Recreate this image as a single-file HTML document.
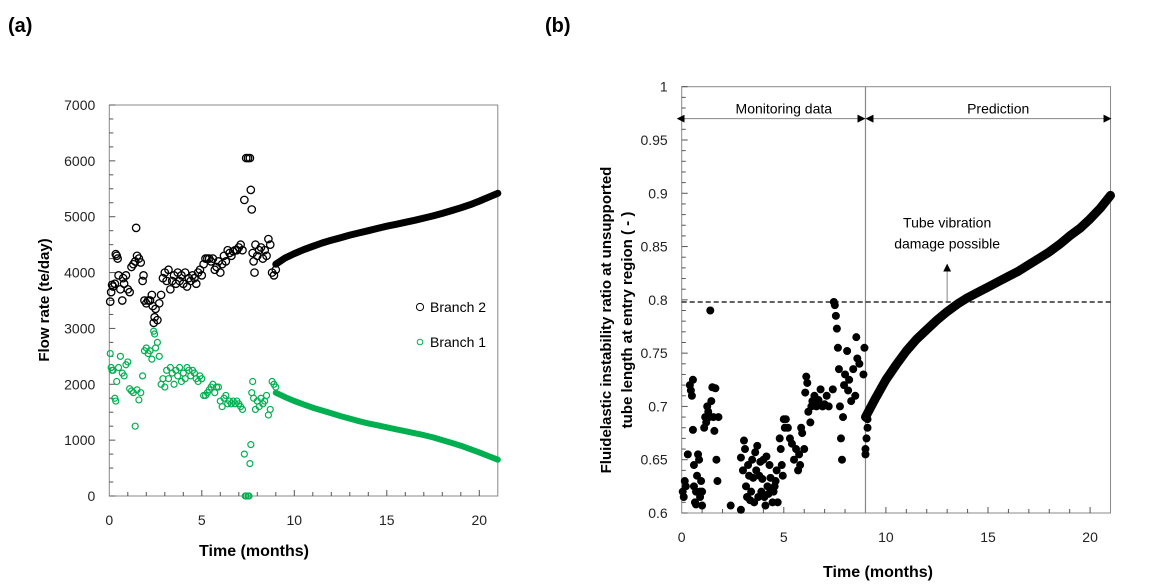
<!DOCTYPE html>
<html><head><meta charset="utf-8">
<style>
html,body{margin:0;padding:0;background:#fff;}
svg{display:block;font-family:"Liberation Sans",sans-serif;}
</style></head>
<body>
<svg id="c" width="1160" height="587" viewBox="0 0 1160 587">
<text x="8" y="32" font-size="20" font-weight="bold">(a)</text>
<text x="545" y="32" font-size="20" font-weight="bold">(b)</text>
</svg>
<script>
// ---------- Panel (a) data ----------
const b2T=[0.05,0.1,0.15,0.2,0.3,0.35,0.4,0.45,0.5,0.6,0.7,0.75,0.8,0.9,1.0,1.1,1.2,1.3,1.4,1.45,1.5,1.6,1.7,1.8,1.85,1.9,2.0,2.1,2.2,2.3,2.35,2.4,2.45,2.5,2.6,2.7,2.8,2.9,3.0,3.1,3.2,3.3,3.4,3.5,3.6,3.7,3.8,3.9,4.0,4.1,4.2,4.3,4.4,4.5,4.6,4.7,4.8,4.9,5.0,5.1,5.2,5.3,5.4,5.5,5.6,5.7,5.8,5.9,6.0,6.1,6.2,6.3,6.4,6.5,6.6,6.7,6.8,6.9,7.0,7.1,7.2,7.3,7.4,7.5,7.6,7.65,7.7,7.75,7.8,7.85,7.9,8.0,8.1,8.2,8.3,8.4,8.5,8.6,8.7,8.8,8.9,9.0];
const b2V=[3480,3650,3780,3750,3800,4330,4300,4250,3950,3700,3500,3900,3800,3950,3700,3650,4100,4150,4200,4800,4300,4250,4180,3850,3950,3500,3450,3500,3500,3600,3400,3100,3200,3350,3150,3450,3600,3900,4000,3850,4050,3700,3850,3950,3800,4000,3850,3950,3800,4000,3750,3900,3850,3950,3900,3800,4000,4050,3950,4150,4250,4250,4250,4200,4250,4050,4100,4200,4000,4150,4300,4200,4400,4350,4300,4380,4400,4400,4450,4500,4400,5300,6050,6050,6050,5480,5130,4350,4200,4000,4500,4300,4400,4450,4250,4400,4300,4600,4500,4000,3950,4050];
const b1T=[0.05,0.1,0.15,0.2,0.3,0.35,0.4,0.5,0.6,0.7,0.8,0.9,1.0,1.1,1.2,1.3,1.4,1.5,1.6,1.7,1.8,1.9,2.0,2.1,2.2,2.3,2.4,2.45,2.5,2.6,2.7,2.8,2.9,3.0,3.1,3.2,3.3,3.4,3.5,3.6,3.7,3.8,3.9,4.0,4.1,4.2,4.3,4.4,4.5,4.6,4.7,4.8,4.9,5.0,5.1,5.2,5.3,5.4,5.5,5.6,5.7,5.8,5.9,6.0,6.1,6.2,6.3,6.4,6.5,6.6,6.7,6.8,6.9,7.0,7.1,7.2,7.3,7.35,7.4,7.5,7.55,7.6,7.65,7.7,7.75,7.8,7.9,8.0,8.1,8.2,8.3,8.4,8.5,8.6,8.7,8.8,8.9,9.0];
const b1V=[2550,2300,2250,2250,1750,1700,2050,2300,2500,2200,2150,2350,2400,1920,1880,1850,1250,1900,1720,1850,2150,2600,2650,2550,2600,2450,2950,2900,2650,2750,2500,2000,2100,1950,2250,2100,2300,2200,2000,2250,2150,2300,2050,2200,2100,2300,2250,2150,2250,2200,2100,2050,2150,2100,1800,1800,1850,1900,1950,2000,1850,1950,1950,1700,1600,1750,1800,1650,1700,1650,1700,1650,1700,1650,1600,1550,750,0,0,0,0,580,920,1850,2050,1750,1550,1700,1600,1750,1650,1700,1800,1450,1550,2050,2000,1950];
const predT=[9,9.5,10,10.5,11,11.5,12,12.5,13,13.5,14,14.5,15,15.5,16,16.5,17,17.5,18,18.5,19,19.5,20,20.5,21];
const b2Pred=[4150,4260,4340,4410,4470,4530,4580,4625,4670,4710,4750,4790,4830,4865,4900,4935,4975,5015,5060,5110,5160,5215,5280,5350,5420];
const b1Pred=[1850,1770,1700,1640,1580,1530,1480,1430,1385,1340,1300,1265,1230,1195,1160,1125,1090,1050,1000,950,900,840,780,715,650];
const aYTicks=[0,1000,2000,3000,4000,5000,6000,7000];
const aXTicks=[0,5,10,15,20];
// ---------- Panel (b) data ----------
const fT=[0.05,0.1,0.15,0.2,0.3,0.4,0.45,0.5,0.55,0.55,0.6,0.6,0.65,0.7,0.7,0.75,0.8,0.85,0.9,0.9,0.95,1.0,1.0,1.1,1.15,1.2,1.25,1.3,1.35,1.4,1.45,1.5,1.55,1.6,1.65,1.7,1.75,1.8,2.4,2.9,2.9,3.0,3.05,3.1,3.15,3.2,3.25,3.3,3.35,3.4,3.45,3.5,3.55,3.6,3.65,3.7,3.75,3.8,3.85,3.9,3.95,4.0,4.05,4.1,4.15,4.2,4.25,4.3,4.35,4.4,4.45,4.5,4.55,4.6,4.65,4.7,4.8,4.85,4.9,4.95,5.0,5.05,5.1,5.2,5.3,5.4,5.5,5.6,5.7,5.75,5.8,5.85,5.9,6.0,6.05,6.1,6.15,6.2,6.3,6.35,6.4,6.5,6.6,6.7,6.8,6.9,7.0,7.1,7.2,7.4,7.45,7.5,7.55,7.6,7.65,7.7,7.75,7.8,7.85,7.9,7.95,8.0,8.1,8.15,8.2,8.3,8.4,8.5,8.55,8.6,8.7,8.9,8.95,9.0,9.0,9.05,9.1,9.1];
const fV=[0.62,0.615,0.63,0.625,0.655,0.72,0.715,0.71,0.725,0.678,0.645,0.625,0.61,0.608,0.62,0.635,0.655,0.65,0.615,0.62,0.63,0.607,0.62,0.68,0.69,0.685,0.7,0.695,0.69,0.79,0.705,0.718,0.69,0.677,0.717,0.65,0.63,0.69,0.607,0.603,0.652,0.64,0.668,0.66,0.625,0.615,0.645,0.635,0.612,0.62,0.65,0.633,0.61,0.657,0.64,0.663,0.615,0.635,0.648,0.62,0.632,0.65,0.615,0.607,0.653,0.625,0.618,0.645,0.633,0.622,0.61,0.62,0.625,0.63,0.64,0.61,0.67,0.66,0.645,0.635,0.688,0.68,0.688,0.68,0.67,0.665,0.65,0.66,0.64,0.655,0.645,0.68,0.675,0.66,0.713,0.728,0.722,0.695,0.685,0.7,0.705,0.71,0.7,0.706,0.716,0.7,0.702,0.71,0.7,0.716,0.798,0.795,0.785,0.773,0.755,0.735,0.7,0.67,0.65,0.69,0.72,0.73,0.752,0.715,0.725,0.705,0.735,0.71,0.765,0.745,0.74,0.73,0.755,0.655,0.66,0.67,0.688,0.68,0.672,0.69];
const fPred=[0.690,0.708,0.725,0.739,0.752,0.763,0.772,0.781,0.789,0.796,0.802,0.807,0.812,0.817,0.822,0.827,0.833,0.839,0.845,0.852,0.860,0.867,0.876,0.886,0.898];
const bYTicks=[0.6,0.65,0.7,0.75,0.8,0.85,0.9,0.95,1];
const bYLabels=["0.6","0.65","0.7","0.75","0.8","0.85","0.9","0.95","1"];
const bXTicks=[0,5,10,15,20];
const threshold=0.798;

const svg=document.getElementById('c');
const NS='http://www.w3.org/2000/svg';
function mk(tag,attrs,parent){const e=document.createElementNS(NS,tag);for(const k in attrs)e.setAttribute(k,attrs[k]);(parent||svg).appendChild(e);return e;}

const ax=t=>109.3+t*18.5, ay=v=>496-v*(391/7000);
const bx=t=>681.7+t*20.42, by=v=>513-(v-0.6)*(426.3/0.4);

// ===== Panel A =====
let g=mk('g',{});


let r=mk('rect',{x:ax(0),y:ay(7000),width:ax(21)-ax(0),height:ay(0)-ay(7000),fill:'none',stroke:'#888','stroke-width':1},g);

for(let v=0;v<=7000;v+=250){let l=mk('line',{x1:ax(0),x2:ax(0)+(v%1000===0?6:4),y1:ay(v),y2:ay(v),stroke:'#555'},g);}
for(let t=1;t<=20;t++){let l=mk('line',{x1:ax(t),x2:ax(t),y1:ay(0),y2:ay(0)-(t%5===0?6:4),stroke:'#555'},g);}
aYTicks.forEach(v=>{let e=mk('text',{x:ax(0)-14,y:ay(v)+5,'text-anchor':'end','font-size':14,fill:'#222'},g);e.textContent=v;});
aXTicks.forEach(t=>{let e=mk('text',{x:ax(t),y:525,'text-anchor':'middle','font-size':14,fill:'#222'},g);e.textContent=t;});
let xt=mk('text',{x:254,y:556,'text-anchor':'middle','font-size':16,'font-weight':'bold'},g);xt.textContent='Time (months)';

let yt=mk('text',{x:49,y:300,'text-anchor':'middle','font-size':15,'font-weight':'bold',transform:'rotate(-90 49 300)'},g);yt.textContent='Flow rate (te/day)';

function polyPts(T,V,fx,fy){return T.map((t,i)=>fx(t).toFixed(1)+','+fy(V[i]).toFixed(1)).join(' ');}
let p2=mk('polyline',{points:polyPts(predT,b2Pred,ax,ay),fill:'none',stroke:'#000','stroke-width':7,'stroke-linecap':'round','stroke-linejoin':'round'},g);

let p1=mk('polyline',{points:polyPts(predT,b1Pred,ax,ay),fill:'none',stroke:'#00b050','stroke-width':6,'stroke-linecap':'round','stroke-linejoin':'round'},g);

b2T.forEach((t,i)=>{let c=mk('circle',{cx:ax(t),cy:ay(b2V[i]),r:3.7,fill:'none',stroke:'#000','stroke-width':1.3},g);});
b1T.forEach((t,i)=>{let c=mk('circle',{cx:ax(t),cy:ay(b1V[i]),r:3.0,fill:'none',stroke:'#00b050','stroke-width':1.2},g);});
let lg=mk('g',{},g);
let c1=mk('circle',{cx:420,cy:307,r:3.6,fill:'none',stroke:'#000'},lg);
let t1=mk('text',{x:430,y:312,'font-size':14},lg);t1.textContent='Branch 2';
let c2=mk('circle',{cx:420,cy:342,r:2.8,fill:'none',stroke:'#00b050'},lg);
let t2=mk('text',{x:430,y:347,'font-size':14},lg);t2.textContent='Branch 1';

// ===== Panel B =====
let h=mk('g',{});


let rb=mk('rect',{x:bx(0),y:by(1),width:bx(21)-bx(0),height:by(0.6)-by(1),fill:'none',stroke:'#888','stroke-width':1},h);

for(let k=0;k<=40;k++){const v=0.6+k*0.01;let l=mk('line',{x1:bx(0),x2:bx(0)+(k%5===0?6:4),y1:by(v),y2:by(v),stroke:'#555'},h);}
for(let t=1;t<=20;t++){let l=mk('line',{x1:bx(t),x2:bx(t),y1:by(0.6),y2:by(0.6)-(t%5===0?6:4),stroke:'#555'},h);}
bYTicks.forEach((v,i)=>{let e=mk('text',{x:bx(0)-14,y:by(v)+5,'text-anchor':'end','font-size':14,fill:'#222'},h);e.textContent=bYLabels[i];});
bXTicks.forEach(t=>{let e=mk('text',{x:bx(t),y:542,'text-anchor':'middle','font-size':14,fill:'#222'},h);e.textContent=t;});
let xtb=mk('text',{x:878,y:577,'text-anchor':'middle','font-size':16,'font-weight':'bold'},h);xtb.textContent='Time (months)';

let ytb1=mk('text',{x:611,y:320,'text-anchor':'middle','font-size':15,'font-weight':'bold',transform:'rotate(-90 611 320)'},h);ytb1.textContent='Fluidelastic instability ratio at unsupported';

let ytb2=mk('text',{x:632,y:320,'text-anchor':'middle','font-size':15,'font-weight':'bold',transform:'rotate(-90 632 320)'},h);ytb2.textContent='tube length at entry region ( - )';

let vd=mk('line',{x1:bx(9),x2:bx(9),y1:by(1),y2:by(0.6),stroke:'#888','stroke-width':1.2},h);

let defs=mk('defs',{},h);
let m=mk('marker',{id:'ah',markerWidth:8,markerHeight:8,refX:7,refY:4,orient:'auto-start-reverse',markerUnits:'userSpaceOnUse'},defs);
mk('path',{d:'M0,0 L8,4 L0,8 z',fill:'#000'},m);
let a1=mk('line',{x1:bx(0)-4,x2:bx(9)-1,y1:by(0.97),y2:by(0.97),stroke:'#888','marker-start':'url(#ah)','marker-end':'url(#ah)'},h);

let a2=mk('line',{x1:bx(9)+1,x2:bx(21),y1:by(0.97),y2:by(0.97),stroke:'#888','marker-start':'url(#ah)','marker-end':'url(#ah)'},h);

let lm=mk('text',{x:bx(5),y:by(0.97)-5,'text-anchor':'middle','font-size':14},h);lm.textContent='Monitoring data';

let lp=mk('text',{x:bx(15.5),y:by(0.97)-5,'text-anchor':'middle','font-size':14},h);lp.textContent='Prediction';

let th=mk('line',{x1:bx(0),x2:bx(21),y1:by(threshold),y2:by(threshold),stroke:'#000','stroke-width':1.3,'stroke-dasharray':'5,3'},h);

let ua=mk('line',{x1:bx(13),x2:bx(13),y1:by(threshold)-1,y2:by(0.833),stroke:'#888','marker-end':'url(#ah)'},h);

let ta=mk('text',{x:bx(13),y:by(0.868),'text-anchor':'middle','font-size':14},h);ta.textContent='Tube vibration';

let tb=mk('text',{x:bx(13),y:by(0.848),'text-anchor':'middle','font-size':14},h);tb.textContent='damage possible';

let pc=mk('polyline',{points:polyPts(predT,fPred,bx,by),fill:'none',stroke:'#000','stroke-width':9,'stroke-linecap':'round','stroke-linejoin':'round'},h);

fT.forEach((t,i)=>{let c=mk('circle',{cx:bx(t),cy:by(fV[i]),r:4,fill:'#000'},h);});
</script>
</body></html>
